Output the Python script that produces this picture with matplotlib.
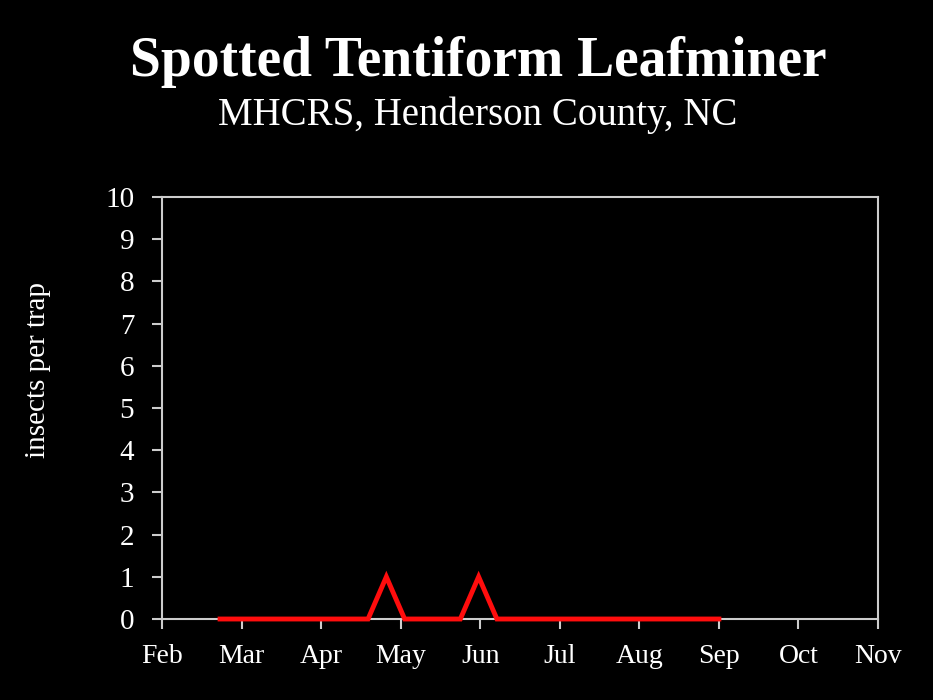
import matplotlib.pyplot as plt

# months shown on the x axis (equal-width category slots)
months = ['Feb', 'Mar', 'Apr', 'May', 'Jun', 'Jul', 'Aug', 'Sep', 'Oct', 'Nov']

# weekly trap checks, position in months after Feb 1
week_pos = [0.73, 0.96, 1.19, 1.43, 1.66, 1.89, 2.12, 2.35, 2.59, 2.82,
            3.05, 3.28, 3.51, 3.75, 3.98, 4.21, 4.44, 4.67, 4.91, 5.14,
            5.37, 5.60, 5.83, 6.07, 6.30, 6.53, 6.76, 7.00]
counts = [0, 0, 0, 0, 0, 0, 0, 0, 0, 1,
          0, 0, 0, 0, 1, 0, 0, 0, 0, 0,
          0, 0, 0, 0, 0, 0, 0, 0]

y_ticks = list(range(0, 11))

plt.rcParams['font.family'] = ['Liberation Serif', 'DejaVu Serif']

fig = plt.figure(figsize=(9.33, 7.0), dpi=100, facecolor='black')
ax = fig.add_axes([0.1736, 0.1157, 0.7675, 0.6029])
ax.set_facecolor('black')

ax.plot(week_pos, counts, color='#ff0d0d', linewidth=3.5, solid_joinstyle='miter',
        clip_on=False, zorder=5)

ax.set_xlim(0, len(months) - 1)
ax.set_ylim(0, 10)
ax.set_xticks(range(len(months)))
ax.set_xticklabels(months)
ax.set_yticks(y_ticks)

for side in ['left', 'right', 'top', 'bottom']:
    ax.spines[side].set_color('#cccccc')
    ax.spines[side].set_linewidth(1.5)

ax.tick_params(axis='both', colors='#cccccc', direction='out', length=7, width=1.5,
               labelcolor='white')
ax.tick_params(axis='x', labelsize=20, pad=11)
ax.tick_params(axis='y', labelsize=21, pad=13)

fig.text(0.513, 0.911, 'Spotted Tentiform Leafminer', color='white', fontsize=40,
         fontweight='bold', ha='center', va='center')
fig.text(0.512, 0.836, 'MHCRS, Henderson County, NC', color='white', fontsize=28,
         ha='center', va='center')
fig.text(0.041, 0.471, 'insects per trap', color='white', fontsize=21,
         rotation=90, ha='center', va='center')

fig.savefig('out.png', dpi=100, facecolor='black')
